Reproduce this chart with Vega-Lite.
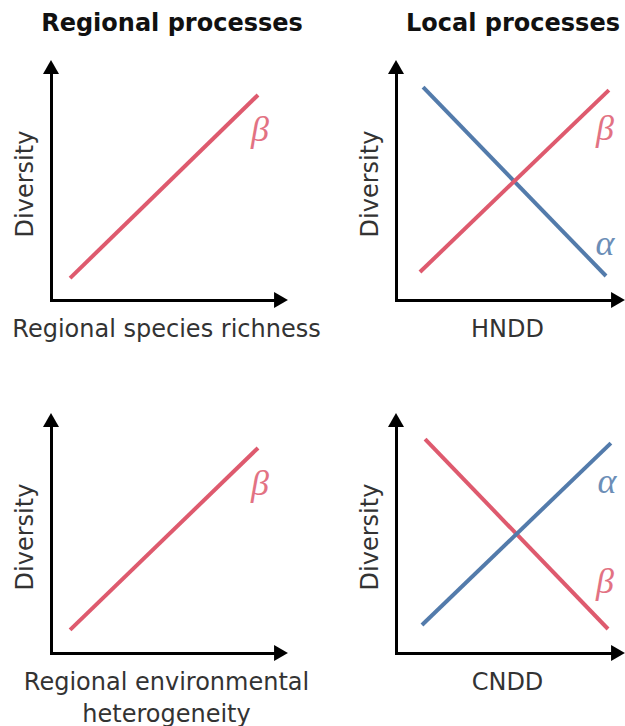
{
  "$schema": "https://vega.github.io/schema/vega-lite/v6.json",
  "padding": {"left": 11, "top": 12, "right": 0, "bottom": 0},
  "background": "white",
  "datasets": {
    "lines": [
      {"panel": "A", "series": "beta", "x": 0.83, "y": 0.94},
      {"panel": "A", "series": "beta", "x": 9.0, "y": 8.8},
      {"panel": "B", "series": "alpha", "x": 1.22, "y": 9.14},
      {"panel": "B", "series": "alpha", "x": 9.46, "y": 1.03},
      {"panel": "B", "series": "beta", "x": 1.08, "y": 1.2},
      {"panel": "B", "series": "beta", "x": 9.59, "y": 9.01},
      {"panel": "C", "series": "beta", "x": 0.83, "y": 0.99},
      {"panel": "C", "series": "beta", "x": 9.0, "y": 8.8},
      {"panel": "D", "series": "beta", "x": 1.31, "y": 9.18},
      {"panel": "D", "series": "beta", "x": 9.55, "y": 1.03},
      {"panel": "D", "series": "alpha", "x": 1.17, "y": 1.2},
      {"panel": "D", "series": "alpha", "x": 9.68, "y": 9.01}
    ],
    "labels": [
      {"panel": "A", "series": "beta", "label": "β", "x": 9.09, "y": 7.3},
      {"panel": "B", "series": "beta", "label": "β", "x": 9.41, "y": 7.34},
      {"panel": "B", "series": "alpha", "label": "α", "x": 9.41, "y": 2.4},
      {"panel": "C", "series": "beta", "label": "β", "x": 9.09, "y": 7.25},
      {"panel": "D", "series": "alpha", "label": "α", "x": 9.5, "y": 7.34},
      {"panel": "D", "series": "beta", "label": "β", "x": 9.41, "y": 3.05}
    ],
    "arrows": [
      {"axis": "x", "x": 10, "y": 0},
      {"axis": "y", "x": 0, "y": 10}
    ]
  },
  "columns": 2,
  "spacing": {"row": 120, "column": 115},
  "bounds": "flush",
  "concat": [
    {
      "width": 230, "height": 233,
      "title": {"text": "Regional processes"},
      "encoding": {
        "x": {"field": "x", "type": "quantitative", "scale": {"domain": [0, 10], "nice": false}, "axis": {"title": "Regional species richness"}},
        "y": {"field": "y", "type": "quantitative", "scale": {"domain": [0, 10], "nice": false}, "axis": {"title": "Diversity"}}
      },
      "layer": [
        {"data": {"name": "lines"}, "transform": [{"filter": "datum.panel === 'A'"}],
         "mark": {"type": "line", "strokeWidth": 4},
         "encoding": {"color": {"field": "series", "type": "nominal", "scale": {"domain": ["alpha", "beta"], "range": ["#537bab", "#de5a6e"]}, "legend": null}}},
        {"data": {"name": "labels"}, "transform": [{"filter": "datum.panel === 'A'"}],
         "mark": {"type": "text", "font": "Liberation Serif", "fontStyle": "italic", "fontSize": 36, "align": "center", "baseline": "middle", "opacity": 0.85},
         "encoding": {"text": {"field": "label"}, "color": {"field": "series", "type": "nominal", "legend": null}}},
        {"data": {"name": "arrows"},
         "mark": {"type": "point", "filled": true, "size": 256, "color": "black", "opacity": 1},
         "encoding": {"shape": {"field": "axis", "type": "nominal", "scale": {"domain": ["x", "y"], "range": ["triangle-right", "triangle-up"]}, "legend": null}}}
      ]
    },
    {
      "width": 222, "height": 233,
      "title": {"text": "Local processes"},
      "encoding": {
        "x": {"field": "x", "type": "quantitative", "scale": {"domain": [0, 10], "nice": false}, "axis": {"title": "HNDD"}},
        "y": {"field": "y", "type": "quantitative", "scale": {"domain": [0, 10], "nice": false}, "axis": {"title": "Diversity"}}
      },
      "layer": [
        {"data": {"name": "lines"}, "transform": [{"filter": "datum.panel === 'B'"}],
         "mark": {"type": "line", "strokeWidth": 4},
         "encoding": {"color": {"field": "series", "type": "nominal", "scale": {"domain": ["alpha", "beta"], "range": ["#537bab", "#de5a6e"]}, "legend": null}}},
        {"data": {"name": "labels"}, "transform": [{"filter": "datum.panel === 'B'"}],
         "mark": {"type": "text", "font": "Liberation Serif", "fontStyle": "italic", "fontSize": 36, "align": "center", "baseline": "middle", "opacity": 0.85},
         "encoding": {"text": {"field": "label"}, "color": {"field": "series", "type": "nominal", "legend": null}}},
        {"data": {"name": "arrows"},
         "mark": {"type": "point", "filled": true, "size": 256, "color": "black", "opacity": 1},
         "encoding": {"shape": {"field": "axis", "type": "nominal", "scale": {"domain": ["x", "y"], "range": ["triangle-right", "triangle-up"]}, "legend": null}}}
      ]
    },
    {
      "width": 230, "height": 233,
      "encoding": {
        "x": {"field": "x", "type": "quantitative", "scale": {"domain": [0, 10], "nice": false}, "axis": {"title": ["Regional environmental", "heterogeneity"]}},
        "y": {"field": "y", "type": "quantitative", "scale": {"domain": [0, 10], "nice": false}, "axis": {"title": "Diversity"}}
      },
      "layer": [
        {"data": {"name": "lines"}, "transform": [{"filter": "datum.panel === 'C'"}],
         "mark": {"type": "line", "strokeWidth": 4},
         "encoding": {"color": {"field": "series", "type": "nominal", "scale": {"domain": ["alpha", "beta"], "range": ["#537bab", "#de5a6e"]}, "legend": null}}},
        {"data": {"name": "labels"}, "transform": [{"filter": "datum.panel === 'C'"}],
         "mark": {"type": "text", "font": "Liberation Serif", "fontStyle": "italic", "fontSize": 36, "align": "center", "baseline": "middle", "opacity": 0.85},
         "encoding": {"text": {"field": "label"}, "color": {"field": "series", "type": "nominal", "legend": null}}},
        {"data": {"name": "arrows"},
         "mark": {"type": "point", "filled": true, "size": 256, "color": "black", "opacity": 1},
         "encoding": {"shape": {"field": "axis", "type": "nominal", "scale": {"domain": ["x", "y"], "range": ["triangle-right", "triangle-up"]}, "legend": null}}}
      ]
    },
    {
      "width": 222, "height": 233,
      "encoding": {
        "x": {"field": "x", "type": "quantitative", "scale": {"domain": [0, 10], "nice": false}, "axis": {"title": "CNDD"}},
        "y": {"field": "y", "type": "quantitative", "scale": {"domain": [0, 10], "nice": false}, "axis": {"title": "Diversity"}}
      },
      "layer": [
        {"data": {"name": "lines"}, "transform": [{"filter": "datum.panel === 'D'"}],
         "mark": {"type": "line", "strokeWidth": 4},
         "encoding": {"color": {"field": "series", "type": "nominal", "scale": {"domain": ["alpha", "beta"], "range": ["#537bab", "#de5a6e"]}, "legend": null}}},
        {"data": {"name": "labels"}, "transform": [{"filter": "datum.panel === 'D'"}],
         "mark": {"type": "text", "font": "Liberation Serif", "fontStyle": "italic", "fontSize": 36, "align": "center", "baseline": "middle", "opacity": 0.85},
         "encoding": {"text": {"field": "label"}, "color": {"field": "series", "type": "nominal", "legend": null}}},
        {"data": {"name": "arrows"},
         "mark": {"type": "point", "filled": true, "size": 256, "color": "black", "opacity": 1},
         "encoding": {"shape": {"field": "axis", "type": "nominal", "scale": {"domain": ["x", "y"], "range": ["triangle-right", "triangle-up"]}, "legend": null}}}
      ]
    }
  ],
  "config": {
    "font": "DejaVu Sans",
    "view": {"stroke": null},
    "axis": {
      "domainColor": "black", "domainWidth": 3, "domainCap": "square",
      "ticks": false, "labels": false, "grid": false,
      "titleFont": "DejaVu Sans", "titleFontSize": 24, "titleFontWeight": "normal", "titleColor": "#333333",
      "titleLineHeight": 32
    },
    "axisX": {"titlePadding": 17},
    "axisY": {"titlePadding": 14},
    "title": {"font": "DejaVu Sans", "fontSize": 24, "fontWeight": "bold", "color": "#111111", "anchor": "middle", "frame": "group", "baseline": "alphabetic", "offset": 24, "dx": 6}
  }
}
